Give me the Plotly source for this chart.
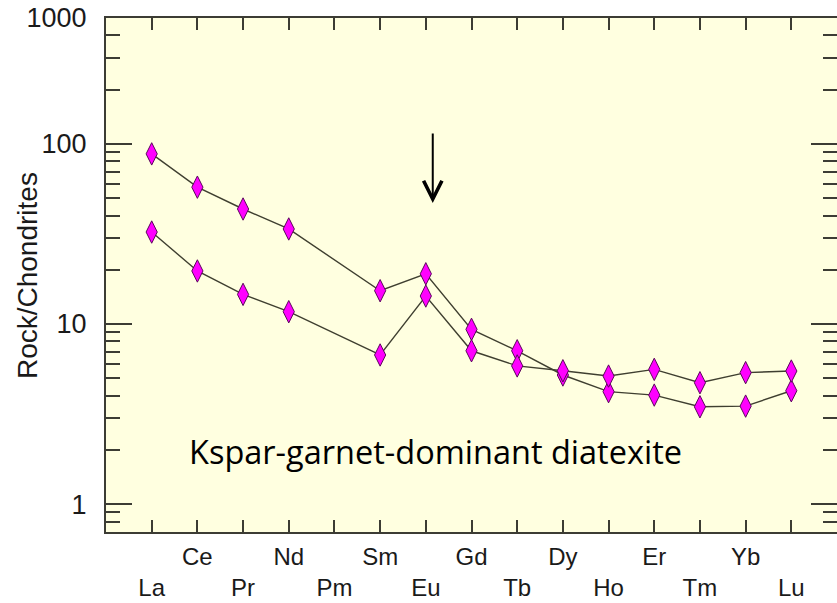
import plotly.graph_objects as go
import numpy as np

elements = ["La", "Ce", "Pr", "Nd", "Pm", "Sm", "Eu", "Gd", "Tb", "Dy", "Ho", "Er", "Tm", "Yb", "Lu"]

# Sample 1 (higher LREE); Pm not analysed
sample_a = [88.0, 57.5, 43.5, 33.7, None, 15.3, 19.0, 9.34, 7.1, 5.21, 4.21, 4.03, 3.47, 3.50, 4.26]
# Sample 2 (lower LREE)
sample_b = [32.4, 19.7, 14.6, 11.7, None, 6.73, 14.3, 7.1, 5.85, 5.5, 5.14, 5.6, 4.72, 5.37, 5.48]

# two-row staggered tick labels
tick_labels = [("<br>" + e) if i % 2 == 0 else e for i, e in enumerate(elements)]

y_major_vals = [1, 10, 100, 500]
y_major_text = ["1", "10", "100", "1000"]
y_minor_vals = [0.8, 0.9, 2, 3, 4, 5, 6, 7, 8, 9, 20, 30, 40, 50, 60, 70, 80, 90, 200, 300, 400]

y_title = "Rock/Chondrites"
note_text = "Kspar-garnet-dominant diatexite"

axis_col = "#3c3c34"
line_col = "#3f3f30"
base_font = "Liberation Sans, Arial, sans-serif"

fig = go.Figure()
for vals in (sample_a, sample_b):
    xs = [e for e, v in zip(elements, vals) if v is not None]
    ys = [v for v in vals if v is not None]
    fig.add_trace(go.Scatter(
        x=xs, y=ys, mode="lines+markers",
        line=dict(color=line_col, width=1.4),
        marker=dict(symbol="diamond-tall", size=16, color="#ff00ff",
                    line=dict(color="#5a0a5a", width=1)),
        showlegend=False, hoverinfo="skip"))

fig.update_layout(
    width=837, height=603,
    margin=dict(l=106, r=0, t=18, b=71),
    paper_bgcolor="white",
    plot_bgcolor="#ffffe0",
    font=dict(family=base_font, color="#1a1a1a"),
)

fig.update_xaxes(
    type="category", categoryorder="array", categoryarray=elements,
    range=[-1, 15], automargin=False,
    tickmode="array", tickvals=elements, ticktext=tick_labels,
    ticks="inside", ticklen=12, tickwidth=1.6, tickcolor=axis_col,
    showline=True, linewidth=2, linecolor=axis_col, mirror="ticks",
    showgrid=False, zeroline=False,
    ticklabelstandoff=2,
    tickfont=dict(size=24, family=base_font),
)

fig.update_yaxes(
    type="log", range=[np.log10(0.7), np.log10(500)], automargin=False,
    tickmode="array", tickvals=y_major_vals, ticktext=y_major_text,
    ticks="inside", ticklen=26, tickwidth=1.6, tickcolor=axis_col,
    minor=dict(tickmode="array", tickvals=y_minor_vals, ticks="inside",
               ticklen=14, tickwidth=1.6, tickcolor=axis_col, showgrid=False),
    showline=True, linewidth=2, linecolor=axis_col, mirror="ticks",
    showgrid=False, zeroline=False,
    ticklabelstandoff=12,
    tickfont=dict(size=27, family=base_font),
)

fig.add_annotation(
    x=-0.108, y=0.498, xref="paper", yref="paper",
    xanchor="center", yanchor="middle", textangle=-90,
    text=y_title, showarrow=False,
    font=dict(family=base_font, size=28, color="#1a1a1a"),
)

fig.add_annotation(
    x=0.451, y=0.156, xref="paper", yref="paper",
    xanchor="center", yanchor="middle",
    text=note_text, showarrow=False,
    font=dict(family="Open Sans, Lato, sans-serif", size=32.5, color="black"),
)

fig.add_annotation(
    x=0.447, y=0.640, xref="paper", yref="paper",
    text="", showarrow=True, ax=0, ay=-71, axref="pixel", ayref="pixel",
    arrowhead=5, arrowsize=1.8, arrowwidth=2, arrowcolor="black", standoff=0,
)

fig.write_html("out.html")
